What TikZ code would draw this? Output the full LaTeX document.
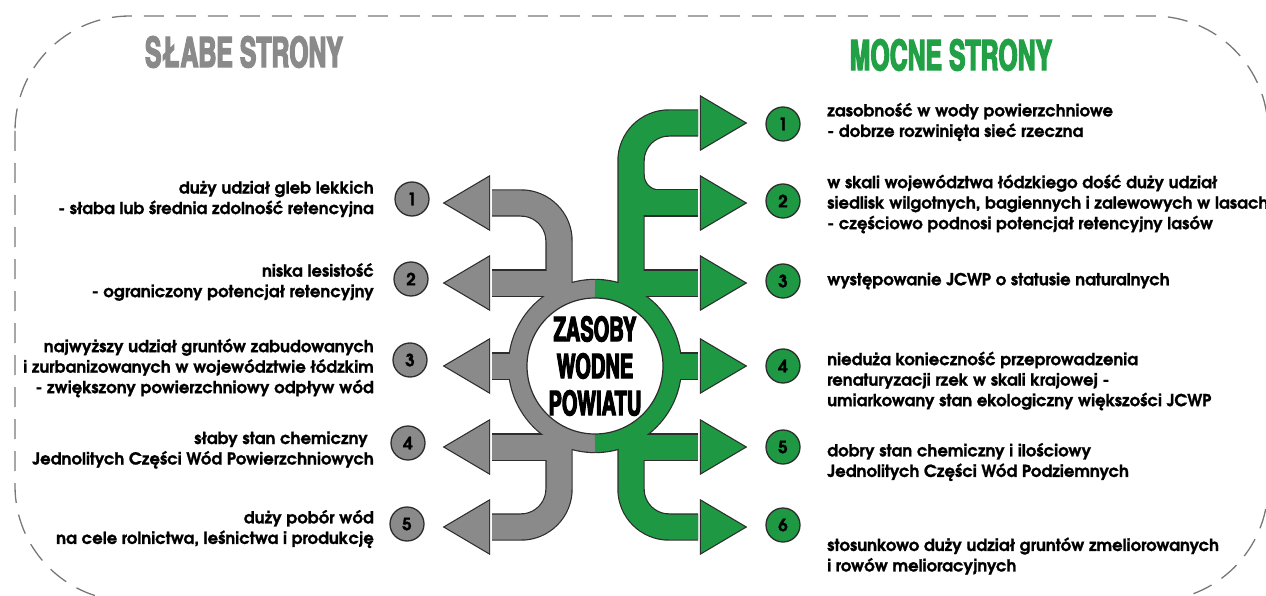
\documentclass[tikz,border=0pt]{standalone}
\usepackage{fontspec}
\setmainfont{texgyreadventor-regular.otf}[BoldFont=texgyreadventor-bold.otf, BoldFeatures={FakeBold=1.2}]
\newfontfamily\headfont{texgyreheroscn-bold.otf}[FakeStretch=0.72, FakeBold=3]
\definecolor{weakgray}{RGB}{138,138,138}
\definecolor{stronggreen}{RGB}{30,152,66}
\definecolor{titlegreen}{RGB}{33,160,70}
\definecolor{edge}{RGB}{45,45,45}
\definecolor{framegray}{RGB}{120,120,120}

% all arrow bands of the hub, drawn once as outline and once as fill
\newcommand{\hubarrows}{%
  % weak side
  \draw[wring] (hub) ++(0,-77) arc[start angle=-90, end angle=-270, radius=77];
  \draw[wshaft] (559,300) -- (559,203) -- (492,203);
  \draw[wshaft] (559,283) -- (492,283);
  \draw[wshaft] (hub) -- (492,366);
  \draw[wshaft] (566,447) -- (492,447);
  \draw[wshaft] (559,440) -- (559,527) -- (492,527);
  \foreach \y in {203,283,366,447,527}
    \path[whead] (489,\y-26) -- (445,\y) -- (489,\y+26) -- cycle;
  % strong side
  \draw[sring] (hub) ++(0,-77) arc[start angle=-90, end angle=90, radius=77];
  \draw[sshaft] (631,300) -- (631,123) -- (698,123);
  \draw[sshaft] (631,203) -- (698,203);
  \draw[sshaft] (631,283) -- (698,283);
  \draw[sshaft] (hub) -- (698,366);
  \draw[sshaft] (625,447) -- (698,447);
  \draw[sshaft] (631,440) -- (631,527) -- (698,527);
  \path[shead] (640,175) -- (643.5,175) .. controls (643.5,183) and (650,190.5) .. (659,190.5) -- (659,195) -- (640,195) -- cycle;
  \foreach \y in {123,203,283,366,447,527}
    \path[shead] (701,\y-26) -- (745,\y) -- (701,\y+26) -- cycle;
}

\begin{document}
\begin{tikzpicture}[x=1pt, y=-1pt,
  outline pass/.style={
    wshaft/.style={draw=edge, line width=27.4pt, rounded corners=38pt},
    sshaft/.style={draw=edge, line width=27.4pt, rounded corners=38pt},
    whead/.style={draw=edge, fill=edge, line width=2.4pt},
    shead/.style={draw=edge, fill=edge, line width=2.4pt},
    wring/.style={draw=edge, line width=20.4pt},
    sring/.style={draw=edge, line width=20.4pt}},
  fill pass/.style={
    wshaft/.style={draw=weakgray, line width=25pt, rounded corners=38pt},
    sshaft/.style={draw=stronggreen, line width=25pt, rounded corners=38pt},
    whead/.style={fill=weakgray},
    shead/.style={fill=stronggreen},
    wring/.style={draw=weakgray, line width=18pt},
    sring/.style={draw=stronggreen, line width=18pt}},
  wnum/.style={circle, draw=edge, line width=1.3pt, fill=weakgray, minimum size=34pt, inner sep=0pt, font=\bfseries\fontsize{17}{17}\selectfont},
  snum/.style={circle, draw=edge, line width=1.3pt, fill=stronggreen, minimum size=34pt, inner sep=0pt, font=\bfseries\fontsize{17}{17}\selectfont},
  weak/.style={anchor=east, align=right, inner sep=0pt, font=\bfseries\fontsize{16.5}{20.5}\selectfont},
  strong/.style={anchor=west, align=left, inner sep=0pt, font=\bfseries\fontsize{16.5}{20.5}\selectfont},
  title/.style={font=\headfont\fontsize{42}{42}\selectfont}]

\useasboundingbox (0,0) rectangle (1266,596);

% dashed frame
\draw[framegray, line width=1.3pt, dash pattern=on 20pt off 12pt, rounded corners=115pt] (15,16) rectangle (1268,601);

\node[title, text=weakgray] (weaktitle) at (244,52) {SŁABE STRONY};
\node[title, text=titlegreen] (strongtitle) at (951,55) {MOCNE STRONY};

% hub
\coordinate (hub) at (595,366);
\begin{scope}[outline pass] \hubarrows \end{scope}
\begin{scope}[fill pass] \hubarrows \end{scope}
\node[circle, fill=white, draw=edge, line width=1.2pt, minimum size=136pt, inner sep=0pt] (core) at (hub) {};
\node[align=center, font=\headfont\fontsize{34}{37}\selectfont] (coretext) at (core) {ZASOBY\\WODNE\\POWIATU};

% weak points
\node[wnum] (w1) at (412,199) {1};
\node[wnum] (w2) at (411,279) {2};
\node[wnum] (w3) at (410,360) {3};
\node[wnum] (w4) at (408,443) {4};
\node[wnum] (w5) at (407,524) {5};
\node[weak] (wt1) at (374,199) {duży udział gleb lekkich\\- słaba lub średnia zdolność retencyjna};
\node[weak] (wt2) at (374,282) {niska lesistość\\- ograniczony potencjał retencyjny};
\node[weak] (wt3) at (374,368) {najwyższy udział gruntów zabudowanych\\i zurbanizowanych w województwie łódzkim\\- zwiększony powierzchniowy odpływ wód};
\node[weak] (wt4) at (374,450) {słaby stan chemiczny\kern6pt\\Jednolitych Części Wód Powierzchniowych};
\node[weak] (wt5) at (374,529) {duży pobór wód\\na cele rolnictwa, leśnictwa i produkcję};

% strong points
\node[snum] (s1) at (783,124) {1};
\node[snum] (s2) at (783,201) {2};
\node[snum] (s3) at (783,281) {3};
\node[snum] (s4) at (783,366) {4};
\node[snum] (s5) at (783,447) {5};
\node[snum] (s6) at (783,525) {6};
\node[strong] (st1) at (827,122) {zasobność w wody powierzchniowe\\- dobrze rozwinięta sieć rzeczna};
\node[strong] (st2) at (827,204) {w skali województwa łódzkiego dość duży udział\\siedlisk wilgotnych, bagiennych i zalewowych w lasach\\- częściowo podnosi potencjał retencyjny lasów};
\node[strong] (st3) at (827,281) {występowanie JCWP o statusie naturalnych};
\node[strong] (st4) at (827,381) {nieduża konieczność przeprowadzenia\\renaturyzacji rzek w skali krajowej -\\umiarkowany stan ekologiczny większości JCWP};
\node[strong] (st5) at (827,462) {dobry stan chemiczny i ilościowy\\Jednolitych Części Wód Podziemnych};
\node[strong] (st6) at (827,556) {stosunkowo duży udział gruntów zmeliorowanych\\i rowów melioracyjnych};
\end{tikzpicture}
\end{document}
